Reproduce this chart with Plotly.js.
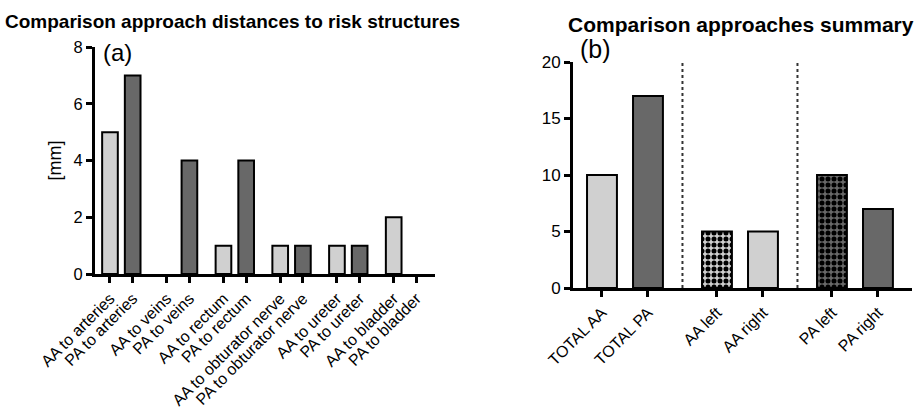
<!DOCTYPE html>
<html>
<head>
<meta charset="utf-8">
<script src="https://cdn.plot.ly/plotly-3.0.1.min.js"></script>
<style>html,body{margin:0;padding:0;background:#fff;}#chart{width:920px;height:411px;}</style>
</head>
<body>
<div id="chart"></div>
<script>
// Panel (a): distances to risk structures [mm]
const categoriesA = ["AA to arteries","PA to arteries","AA to veins","PA to veins","AA to rectum","PA to rectum",
  "AA to obturator nerve","PA to obturator nerve","AA to ureter","PA to ureter","AA to bladder","PA to bladder"];
const valuesA = [5, 7, 0, 4, 1, 4, 1, 1, 1, 1, 2, 0];
const yTicksA = [0, 2, 4, 6, 8];

// Panel (b): summary
const categoriesB = ["TOTAL AA","TOTAL PA","AA left","AA right","PA left","PA right"];
const valuesB = [10, 17, 5, 5, 10, 7];
const yTicksB = [0, 5, 10, 15, 20];

const LIGHT = '#d0d0d0', DARK = '#686868';
const FONT = 'Arial, "Liberation Sans", Helvetica, sans-serif';

// grouped positions: pairs separated by a gap
const pos = (i) => Math.floor(i / 2) * 2.5 + (i % 2);
const xA = categoriesA.map((_, i) => pos(i));
const xB = categoriesB.map((_, i) => pos(i));
const colorsA = categoriesA.map(c => c.startsWith('AA') ? LIGHT : DARK);
const colorsB = categoriesB.map(c => c.startsWith('AA') || c === 'TOTAL AA' ? LIGHT : DARK);
const lineWA = valuesA.map(v => v > 0 ? 2 : 0);

const traces = [
  {type: 'bar', x: xA, y: valuesA, xaxis: 'x', yaxis: 'y', width: 0.69,
   marker: {color: colorsA, line: {color: '#000', width: lineWA}}, hoverinfo: 'skip'}
];
categoriesB.forEach((c, i) => {
  const checker = c.endsWith('left');
  const marker = {color: colorsB[i], line: {color: '#000', width: 2}};
  if (checker) {
    marker.pattern = {shape: '.', fgcolor: '#000', bgcolor: colorsB[i], fgopacity: 1,
                      size: 6, solidity: 0.55, fillmode: 'replace'};
  }
  traces.push({type: 'bar', name: c, x: [xB[i]], y: [valuesB[i]], xaxis: 'x2', yaxis: 'y2',
               width: 0.65, marker: marker, hoverinfo: 'skip'});
});

const axisCommon = {showline: true, linewidth: 3, linecolor: '#000', ticks: 'outside', ticklen: 6,
  tickwidth: 3, tickcolor: '#000', showgrid: false, zeroline: false, fixedrange: true};

const layout = {
  width: 920, height: 411, margin: {l: 0, r: 0, t: 0, b: 0},
  paper_bgcolor: '#fff', plot_bgcolor: '#fff', showlegend: false, bargap: 0, barmode: 'overlay',
  font: {family: FONT, color: '#000'},
  xaxis: Object.assign({}, axisCommon, {domain: [95/920, 435/920], range: [-0.66, 14.32], anchor: 'y',
    tickmode: 'array', tickvals: xA, ticktext: categoriesA, tickangle: -45, tickfont: {size: 16}}),
  yaxis: Object.assign({}, axisCommon, {domain: [1 - 274/411, 1 - 47/411], range: [0, 8], anchor: 'x',
    tickmode: 'array', tickvals: yTicksA, tickfont: {size: 16.5},
    title: {text: '[mm]', font: {size: 18}, standoff: 8}}),
  xaxis2: Object.assign({}, axisCommon, {domain: [573/920, 912/920], range: [-0.63, 6.74], anchor: 'y2',
    tickmode: 'array', tickvals: xB, ticktext: categoriesB, tickangle: -45, tickfont: {size: 16}}),
  yaxis2: Object.assign({}, axisCommon, {domain: [1 - 288/411, 1 - 62/411], range: [0, 20], anchor: 'x2',
    tickmode: 'array', tickvals: yTicksB, tickfont: {size: 17}}),
  shapes: [1.75, 4.25].map(v => ({type: 'line', xref: 'x2', yref: 'y2', x0: v, x1: v, y0: 0, y1: 20,
    line: {color: '#333', width: 2, dash: 'dot'}})),
  annotations: [
    {text: '<b>Comparison approach distances to risk structures</b>', xref: 'paper', yref: 'paper',
     x: 233/920, y: 1 - 21/411, xanchor: 'center', yanchor: 'middle', showarrow: false, font: {size: 19}},
    {text: '<b>Comparison approaches summary</b>', xref: 'paper', yref: 'paper',
     x: 741/920, y: 1 - 24/411, xanchor: 'center', yanchor: 'middle', showarrow: false, font: {size: 21}},
    {text: '(a)', xref: 'paper', yref: 'paper', x: 101/920, y: 1 - 52/411, xanchor: 'left', yanchor: 'middle',
     showarrow: false, font: {size: 24}},
    {text: '(b)', xref: 'paper', yref: 'paper', x: 578/920, y: 1 - 49/411, xanchor: 'left', yanchor: 'middle',
     showarrow: false, font: {size: 25}}
  ]
};

Plotly.newPlot('chart', traces, layout, {staticPlot: true, displayModeBar: false});
</script>
</body>
</html>
